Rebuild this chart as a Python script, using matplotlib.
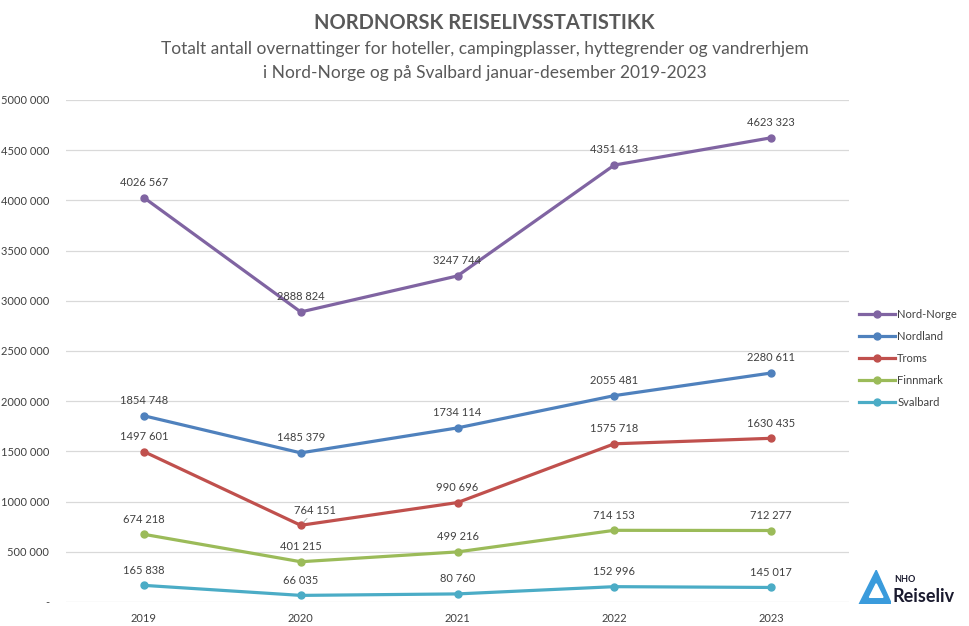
import matplotlib
matplotlib.use('Agg')

import matplotlib.pyplot as plt
from matplotlib.patches import Polygon

years = ['2019', '2020', '2021', '2022', '2023']
nord_norge = [4026567, 2888824, 3247744, 4351613, 4623323]
nordland = [1854748, 1485379, 1734114, 2055481, 2280611]
troms = [1497601, 764151, 990696, 1575718, 1630435]
finnmark = [674218, 401215, 499216, 714153, 712277]
svalbard = [165838, 66035, 80760, 152996, 145017]

series = [
    ('Nord-Norge', nord_norge, '#8064A2'),
    ('Nordland', nordland, '#4F81BD'),
    ('Troms', troms, '#C0504D'),
    ('Finnmark', finnmark, '#9BBB59'),
    ('Svalbard', svalbard, '#4BACC6'),
]


def fmt(v):
    v = int(round(v))
    if v == 0:
        return '-'
    if v < 1000:
        return str(v)
    return f"{v // 1000} {v % 1000:03d}"


plt.rcParams['font.family'] = ['Lato', 'DejaVu Sans']
txt = '#404040'

fig = plt.figure(figsize=(9.69, 6.26), dpi=100)
ax = fig.add_axes([0.0677, 0.0383, 0.8089, 0.802])

x = list(range(len(years)))
for name, vals, col in series:
    ax.plot(x, vals, color=col, lw=2.3, marker='o', ms=5, label=name)
    for i, v in enumerate(vals):
        if name == 'Troms' and i == 1:
            ax.annotate(fmt(v), (i, v), xytext=(10, 7), textcoords='offset points',
                        ha='center', va='bottom', fontsize=8, color=txt,
                        arrowprops=dict(arrowstyle='-', color='#A6A6A6', lw=0.6,
                                        shrinkA=0, shrinkB=3))
        else:
            ax.annotate(fmt(v), (i, v), xytext=(0, 7), textcoords='offset points',
                        ha='center', va='bottom', fontsize=8, color=txt)

ax.set_xlim(-0.5, 4.5)
ax.set_ylim(0, 5000000)
ax.set_yticks(range(0, 5000001, 500000))
ax.set_yticklabels([fmt(v) for v in range(0, 5000001, 500000)])
ax.set_xticks(x)
ax.set_xticklabels(years)
ax.tick_params(length=0, labelsize=8, colors=txt)
ax.tick_params(axis='y', pad=12)
ax.tick_params(axis='x', pad=8)
ax.grid(axis='y', color='#D9D9D9', lw=0.9)
ax.set_axisbelow(True)
for s in ax.spines.values():
    s.set_visible(False)

ax.legend(loc='center left', bbox_to_anchor=(1.0, 0.485), frameon=False,
          fontsize=8, labelcolor=txt, handlelength=3.2, handletextpad=0.2,
          labelspacing=1.0)

fig.text(0.5, 0.963, 'NORDNORSK REISELIVSSTATISTIKK', ha='center', va='center',
         fontsize=14.5, fontweight='bold', color='#595959')
fig.text(0.5, 0.922, 'Totalt antall overnattinger for hoteller, campingplasser, hyttegrender og vandrerhjem',
         ha='center', va='center', fontsize=12.5, color='#595959')
fig.text(0.5, 0.884, 'i Nord-Norge og på Svalbard januar-desember 2019-2023',
         ha='center', va='center', fontsize=12.5, color='#595959')

# NHO Reiseliv logo
lax = fig.add_axes([0.885, 0.035, 0.035, 0.054])
lax.add_patch(Polygon([[0.05, 0.0], [1.0, 0.0], [0.55, 1.0]], closed=True,
                      color='#3A9BDC'))
lax.add_patch(Polygon([[0.35, 0.2], [0.75, 0.2], [0.55, 0.6]], closed=True,
                      color='white'))
lax.set_xlim(0, 1)
lax.set_ylim(0, 1)
lax.axis('off')
fig.text(0.923, 0.07, 'NHO', fontsize=6.5, fontweight='bold', color='#1A1A2E')
fig.text(0.921, 0.038, 'Reiseliv', fontsize=13, fontweight='bold', color='#1A1A2E')

fig.savefig('out.png', dpi=100)
